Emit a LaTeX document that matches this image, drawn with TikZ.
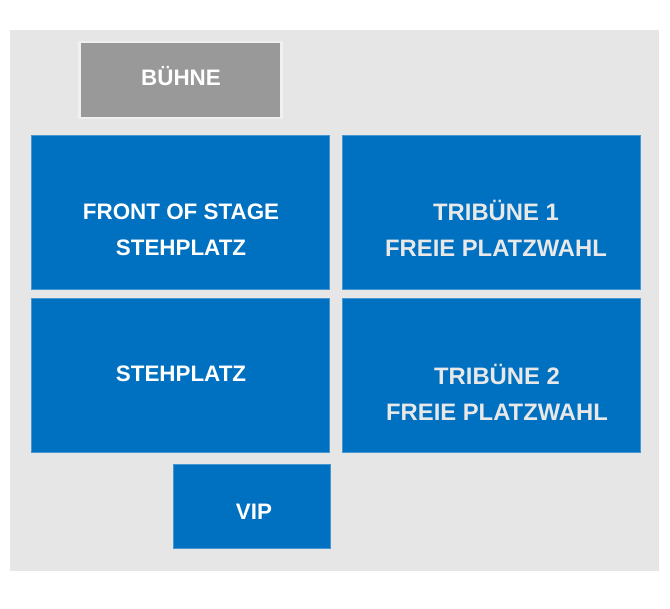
\documentclass[tikz,border=0pt]{standalone}
\usepackage{fontspec}
\setmainfont{Liberation Sans}
\definecolor{hallgray}{RGB}{230,230,230}
\definecolor{stagegray}{RGB}{153,153,153}
\definecolor{stageedge}{RGB}{240,240,240}
\definecolor{zoneblue}{RGB}{0,112,192}
\definecolor{zoneedge}{RGB}{70,150,210}
\definecolor{tribtext}{RGB}{232,232,232}
\tikzset{
	zone/.style={fill=zoneblue,draw=zoneedge,line width=0.6pt,inner sep=0pt,
		minimum width=298pt,minimum height=154pt},
	lbl/.style={font=\bfseries\fontsize{22.4}{36}\selectfont,align=center,
		anchor=base,inner sep=0pt,text=white},
	triblbl/.style={lbl,text=tribtext,font=\bfseries\fontsize{23.8}{36}\selectfont}
}
\begin{document}
\begin{tikzpicture}[x=1pt,y=-1pt]
	\useasboundingbox[fill=white] (0,0) rectangle (670,609);
	\fill[hallgray] (10,30) rectangle (659,571);

	\node[fill=stagegray,draw=stageedge,line width=2.5pt,inner sep=0pt,
		minimum width=202pt,minimum height=76pt] at (180.5,80)(buehne){};
	\node[zone] at (180.5,212.5)(front){};
	\node[zone] at (491,212.5)(trib1){};
	\node[zone] at (180.5,375.5)(steh){};
	\node[zone] at (491,375.5)(trib2){};
	\node[zone,minimum width=157pt,minimum height=84pt] at (252,506.5)(vip){};

	\node[lbl] at (181,86)(buehnetext){BÜHNE};
	\node[lbl] at (181,256)(fronttext){FRONT OF STAGE\\STEHPLATZ};
	\node[triblbl] at (496,257)(trib1text){TRIBÜNE 1\\FREIE PLATZWAHL};
	\node[lbl] at (181,382)(stehtext){STEHPLATZ};
	\node[triblbl] at (497,421)(trib2text){TRIBÜNE 2\\FREIE PLATZWAHL};
	\node[lbl] at (254,520)(viptext){VIP};
\end{tikzpicture}
\end{document}
